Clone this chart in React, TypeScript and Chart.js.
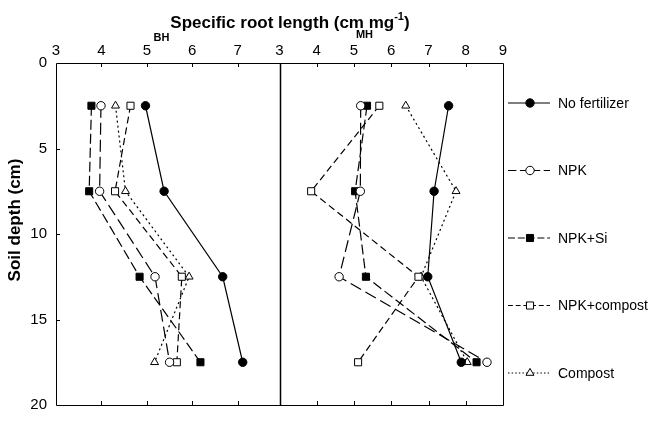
import React, { useEffect, useRef } from "react";
import { Chart, registerables } from "chart.js";

Chart.register(...registerables);

// ---- data ----
const DEPTHS = [2.5, 7.5, 12.5, 17.5];
const TREATMENTS = ["No fertilizer", "NPK", "NPK+Si", "NPK+compost", "Compost"];

const BH_NO_FERT = [4.97, 5.38, 6.67, 7.11];
const BH_NPK = [3.99, 3.96, 5.18, 5.5];
const BH_NPK_SI = [3.78, 3.73, 4.84, 6.18];
const BH_NPK_COMPOST = [4.64, 4.3, 5.77, 5.66];
const BH_COMPOST = [4.31, 4.53, 5.93, 5.17];

const MH_NO_FERT = [7.54, 7.15, 6.98, 7.88];
const MH_NPK = [5.18, 5.17, 4.6, 8.57];
const MH_NPK_SI = [5.35, 5.03, 5.32, 8.29];
const MH_NPK_COMPOST = [5.68, 3.85, 6.73, 5.11];
const MH_COMPOST = [6.39, 7.74, 6.8, 8.04];

const BH_TICKS = [3, 4, 5, 6, 7];
const MH_TICKS = [3, 4, 5, 6, 7, 8, 9];
const DEPTH_TICKS = [0, 5, 10, 15, 20];

const BH_SERIES = [BH_NO_FERT, BH_NPK, BH_NPK_SI, BH_NPK_COMPOST, BH_COMPOST];
const MH_SERIES = [MH_NO_FERT, MH_NPK, MH_NPK_SI, MH_NPK_COMPOST, MH_COMPOST];

// ---- styles ----
const FONT = "'Liberation Sans', Arial, Helvetica, sans-serif";
const STYLES = [
  { dash: [] as number[], point: "circle", fill: "#000", r: 4.2 },
  { dash: [12, 5], point: "circle", fill: "#fff", r: 4.2 },
  { dash: [10, 4], point: "rect", fill: "#000", r: 5 },
  { dash: [7, 4], point: "rect", fill: "#fff", r: 5 },
  { dash: [2, 3], point: "triangle", fill: "#fff", r: 4.6 },
];

function drawMarker(ctx: CanvasRenderingContext2D, kind: string, x: number, y: number, r: number, fill: string) {
  ctx.save();
  ctx.setLineDash([]);
  ctx.lineWidth = 1;
  ctx.strokeStyle = "#000";
  ctx.fillStyle = fill;
  ctx.beginPath();
  if (kind === "circle") {
    ctx.arc(x, y, r, 0, Math.PI * 2);
  } else if (kind === "rect") {
    const s = r * Math.SQRT1_2;
    ctx.rect(x - s, y - s, 2 * s, 2 * s);
  } else {
    const a = r;
    ctx.moveTo(x, y - a);
    ctx.lineTo(x + a * 0.866, y + a * 0.5);
    ctx.lineTo(x - a * 0.866, y + a * 0.5);
    ctx.closePath();
  }
  ctx.fill();
  ctx.stroke();
  ctx.restore();
}

const decorPlugin = {
  id: "decor",
  afterDraw(chart: any) {
    const ctx: CanvasRenderingContext2D = chart.ctx;
    const { left, right, top, bottom } = chart.chartArea;
    const xL = chart.scales.xL;
    const xR = chart.scales.xR;
    const y = chart.scales.y;
    const px = (v: number) => Math.round(v) + 0.5;
    ctx.save();
    ctx.strokeStyle = "#000";
    ctx.lineWidth = 1;
    ctx.setLineDash([]);
    // frame
    ctx.beginPath();
    ctx.rect(px(left), px(top), Math.round(right) - Math.round(left), Math.round(bottom) - Math.round(top));
    ctx.stroke();
    // divider
    ctx.lineWidth = 1.5;
    ctx.beginPath();
    ctx.moveTo(px(xL.right), top);
    ctx.lineTo(px(xL.right), bottom);
    ctx.stroke();
    ctx.lineWidth = 1;
    // inward ticks
    const tl = 4;
    ctx.beginPath();
    BH_TICKS.slice(1).forEach((v) => {
      const x = px(xL.getPixelForValue(v));
      ctx.moveTo(x, top); ctx.lineTo(x, top + tl);
      ctx.moveTo(x, bottom); ctx.lineTo(x, bottom - tl);
    });
    MH_TICKS.slice(1, -1).forEach((v) => {
      const x = px(xR.getPixelForValue(v));
      ctx.moveTo(x, top); ctx.lineTo(x, top + tl);
      ctx.moveTo(x, bottom); ctx.lineTo(x, bottom - tl);
    });
    DEPTH_TICKS.slice(1, -1).forEach((v) => {
      const yy = px(y.getPixelForValue(v));
      ctx.moveTo(left, yy); ctx.lineTo(left + tl, yy);
    });
    ctx.stroke();

    // main title
    ctx.fillStyle = "#000";
    ctx.textBaseline = "alphabetic";
    ctx.textAlign = "left";
    const t1 = "Specific root length (cm mg";
    const sup = "-1";
    const t2 = ")";
    ctx.font = `bold 17px ${FONT}`;
    const w1 = ctx.measureText(t1).width;
    const w2 = ctx.measureText(t2).width;
    ctx.font = `bold 11px ${FONT}`;
    const ws = ctx.measureText(sup).width;
    const total = w1 + ws + w2;
    const cx = 290;
    const x0 = cx - total / 2;
    const base = 28;
    ctx.font = `bold 17px ${FONT}`;
    ctx.fillText(t1, x0, base);
    ctx.font = `bold 11px ${FONT}`;
    ctx.fillText(sup, x0 + w1, base - 8);
    ctx.font = `bold 17px ${FONT}`;
    ctx.fillText(t2, x0 + w1 + ws, base);

    // panel labels
    ctx.font = `bold 11px ${FONT}`;
    ctx.textAlign = "center";
    ctx.textBaseline = "middle";
    ctx.fillText("BH", 161.5, 38);
    ctx.fillText("MH", 364.5, 35);

    // y title
    ctx.save();
    ctx.translate(15, 220);
    ctx.rotate(-Math.PI / 2);
    ctx.font = `bold 17px ${FONT}`;
    ctx.textAlign = "center";
    ctx.textBaseline = "middle";
    ctx.fillText("Soil depth (cm)", 0, 0);
    ctx.restore();

    // legend
    TREATMENTS.forEach((name, i) => {
      const st = STYLES[i];
      const ly = top + 40 + i * 67.5;
      const lx0 = right + 5;
      const lx1 = right + 47;
      const mx = right + 27;
      ctx.save();
      ctx.lineWidth = 1.2;
      ctx.setLineDash(st.dash.length ? st.dash.map((d) => Math.max(1.5, d * 0.7)) : []);
      ctx.beginPath();
      ctx.moveTo(lx0, ly);
      ctx.lineTo(lx1, ly);
      ctx.stroke();
      ctx.restore();
      drawMarker(ctx, st.point, mx, ly, st.r, st.fill);
      ctx.font = `14px ${FONT}`;
      ctx.textAlign = "left";
      ctx.textBaseline = "middle";
      ctx.fillStyle = "#000";
      ctx.fillText(name, right + 55, ly + 1);
    });
    ctx.restore();
  },
};

function makeDatasets(series: number[][], axis: string) {
  return series.map((vals, i) => {
    const st = STYLES[i];
    return {
      label: TREATMENTS[i],
      data: vals.map((v, k) => ({ x: v, y: DEPTHS[k] })),
      xAxisID: axis,
      yAxisID: "y",
      showLine: true,
      borderColor: "#000",
      borderWidth: 1.2,
      borderDash: st.dash,
      backgroundColor: st.fill,
      pointStyle: st.point,
      pointRadius: st.r,
      pointBorderWidth: 1,
      pointBorderColor: "#000",
      pointBackgroundColor: st.fill,
      tension: 0,
    };
  });
}

export default function App() {
  const ref = useRef<HTMLCanvasElement>(null);
  useEffect(() => {
    const tickFont = { family: FONT, size: 15 };
    const chart = new Chart(ref.current as HTMLCanvasElement, {
      type: "scatter",
      data: {
        datasets: [...makeDatasets(BH_SERIES, "xL"), ...makeDatasets(MH_SERIES, "xR")] as any,
      },
      options: {
        animation: false,
        responsive: false,
        layout: { padding: { left: 0, top: 0, right: 146, bottom: 7 } },
        plugins: { legend: { display: false }, tooltip: { enabled: false }, title: { display: false } },
        scales: {
          xR: {
            type: "linear",
            position: "top",
            stack: "x",
            stackWeight: 1,
            min: 3,
            max: 9,
            afterBuildTicks: (s: any) => { s.ticks = MH_TICKS.map((v) => ({ value: v })); },
            afterFit: (s: any) => { s.height = 63; },
            ticks: { font: tickFont, color: "#000", padding: 3, maxRotation: 0 },
            grid: { display: false, drawTicks: false },
            border: { display: false },
          },
          xL: {
            type: "linear",
            position: "top",
            stack: "x",
            stackWeight: 1,
            min: 3,
            max: 7.92,
            afterBuildTicks: (s: any) => { s.ticks = BH_TICKS.map((v) => ({ value: v })); },
            afterFit: (s: any) => { s.height = 63; },
            ticks: { font: tickFont, color: "#000", padding: 3, maxRotation: 0 },
            grid: { display: false, drawTicks: false },
            border: { display: false },
          },
          y: {
            type: "linear",
            position: "left",
            reverse: true,
            min: 0,
            max: 20,
            afterBuildTicks: (s: any) => { s.ticks = DEPTH_TICKS.map((v) => ({ value: v })); },
            afterFit: (s: any) => { s.width = 56; },
            ticks: { font: tickFont, color: "#000", padding: 9 },
            grid: { display: false, drawTicks: false },
            border: { display: false },
          },
        } as any,
      },
      plugins: [decorPlugin],
    });
    return () => chart.destroy();
  }, []);
  return (
    <div style={{ position: "absolute", left: 0, top: 0, width: 649, height: 423, background: "#fff" }}>
      <canvas ref={ref} width={649} height={423} style={{ display: "block" }} />
    </div>
  );
}
